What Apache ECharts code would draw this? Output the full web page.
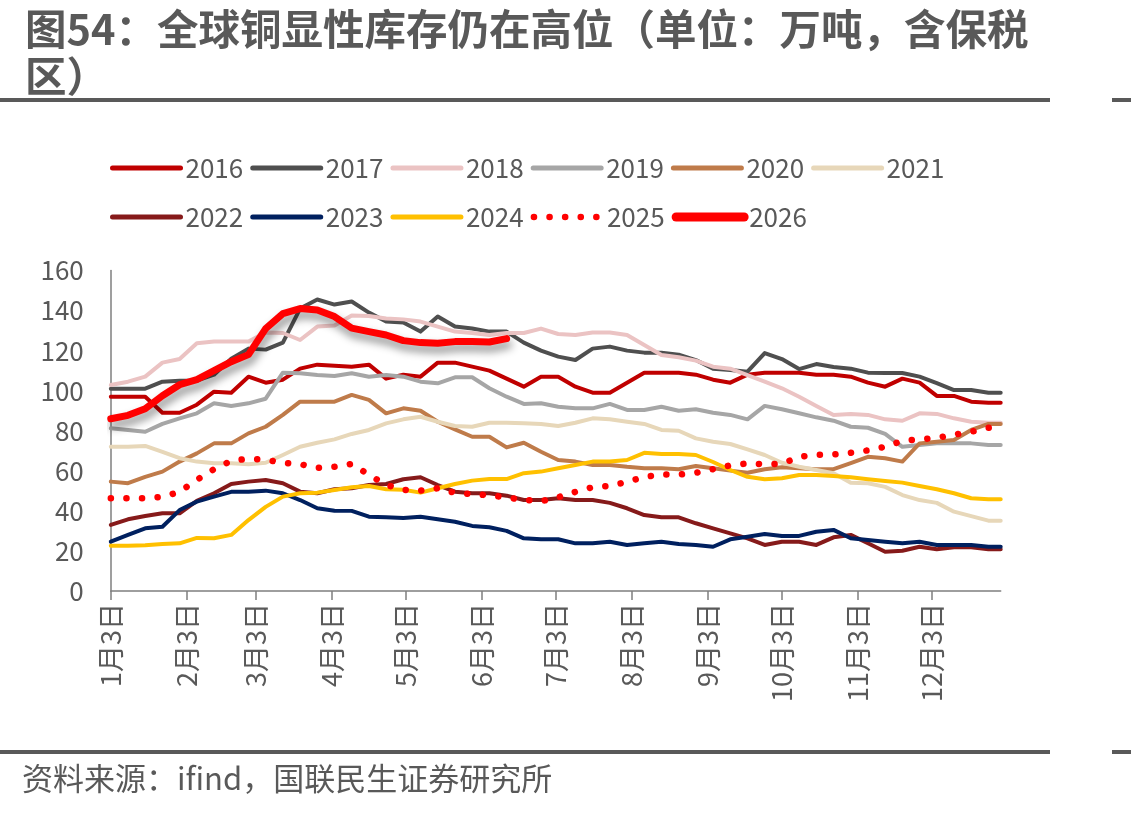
<!DOCTYPE html>
<html><head><meta charset="utf-8">
<script src="https://cdn.jsdelivr.net/npm/echarts@6/dist/echarts.min.js"></script>
<style>html,body{margin:0;padding:0;background:#fff}#c{width:1131px;height:815px}</style>
</head><body><div id="c"></div>
<script>
// x positions: day offset from Jan 3 for each weekly observation
const weekDays = [0,7,14,21,28,35,42,49,56,63,70,77,84,91,98,105,112,119,126,133,140,147,154,161,168,175,182,189,196,203,210,217,224,231,238,245,252,259,266,273,280,287,294,301,308,315,322,329,336,343,350,357,362];
const tickDays = [0,31,59,90,120,151,181,212,243,273,304,334];
const tickLabels = ['1月3日','2月3日','3月3日','4月3日','5月3日','6月3日','7月3日','8月3日','9月3日','10月3日','11月3日','12月3日'];
const yTicks = [0,20,40,60,80,100,120,140,160];

const y2016 = [97,97,97,89,89,93,99.5,99,107,104,105.5,111,113,112.5,112,113,106,108,107,114,114,112,110,106,102,107,107,102,99,99,104,109,109,109,108,105.5,104,108,109,109,109,108,108,107,104,102,106,104,97.4,97.4,94.5,94,94];
const y2017 = [101,101,101,104.5,105,105,108,116,121,120.5,124,141,145.5,143,144.5,139,134.5,134,129.5,137,132,131,129.5,129.5,124,120,117,115.3,121,122,120,119,119,118,115.3,111,110.3,109.5,118.8,115.8,110.8,113.3,111.8,111,109,108.8,108.8,107,103.8,100.3,100.3,99,99];
const y2018 = [102.8,104.5,107,114,115.8,123.7,124.5,124.5,124.5,129,128.8,125.3,132,132.5,137.5,137.3,136,135.6,134.5,132,129.5,128.8,127.8,128.8,128.8,131,128.3,127.8,129,129,127.8,122.8,117.8,116.7,115,112,111,107.8,104.5,101.2,97,92.4,87.9,88.4,87.9,85.7,85,88.7,88.4,86.2,84.5,84,84];
const y2019 = [81.2,80.4,79.5,83.4,86.2,88.7,93.7,92.4,93.7,96,109,108.7,107.8,107.3,108.7,107,107.8,107,104.5,103.7,106.7,106.7,101.2,97,93.4,93.7,92,91.2,91.2,93.4,90.4,90.4,92,90,90.7,89,87.9,85.7,92.4,90.7,88.7,86.7,85,82,81.5,78.4,72,72.9,73.7,73.7,73.7,72.9,72.9];
const y2020 = [54.6,53.8,57,59.6,64.6,68.7,73.7,73.7,78.7,82,87.9,94.5,94.5,94.5,97.9,95.4,88.7,91.2,90,84.5,80.7,77,77,71.7,74,69.5,65.4,64.6,62.9,62.9,62,61.3,61.3,60.8,62.4,61.3,60.1,59,60.8,61.8,61.3,60.8,60.8,63.8,67,66.3,64.6,73.7,74.5,75.4,80.4,83.4,83.4];
const y2021 = [72,72,72.4,69.5,66.3,64.6,63.8,63.8,63.3,64,67.9,72,74,75.7,78.4,80.4,83.7,85.7,87,84.5,82.4,82,84,84,83.7,83.4,82.4,84,86.2,85.7,84.5,83.4,80.4,80,76.2,74.5,73.4,70.7,67.9,64,62,60.4,58.8,54,53.8,52,47.9,45.4,44,39.6,37.4,35.1,35.1];
const y2022 = [33,35.8,37.4,38.8,38.8,45,48.8,53.4,54.6,55.4,53.8,49.6,48.8,50.8,51.3,52.9,53.4,55.8,56.8,52.9,49.6,48.8,48.8,47.6,45.4,45.4,46.3,45.4,45.4,44,41.3,37.9,36.8,36.8,33.8,31.3,28.8,26.3,23,24.6,24.6,23,26.8,28,23.8,19.6,20.1,22.1,20.8,21.8,21.8,20.8,20.8];
const y2023 = [24.6,28,31.3,32.1,40.4,44.6,47.1,49.5,49.5,50.1,48.8,45.4,41.3,40.1,40,37.1,36.8,36.5,37.1,35.8,34.6,32.5,31.8,30,26.3,25.8,25.8,23.8,23.8,24.6,23,23.8,24.6,23.5,23,22.1,25.8,27.1,28.5,27.5,27.5,29.6,30.5,26.3,25.5,24.6,23.8,24.6,23,23,23,22.1,22.1];
const y2024 = [22.6,22.6,22.8,23.5,23.8,26.5,26.3,28,35.4,42,47.1,48.8,49.1,50.4,51.8,52.4,50.8,50.5,49.1,51.3,53.4,55.1,55.9,55.9,58.8,59.6,61.3,62.9,64.6,64.6,65.4,69,68.4,68.4,67.9,64.4,60.4,57,55.8,56.3,57.9,57.9,57.4,56.8,55.8,54.9,54.1,52.4,50.8,48.8,46.3,45.8,45.8];
const y2025 = [46.3,46.3,46.3,47,49.5,55.5,60.8,65,66,65.5,64,63.3,61.5,62,63.4,58,53,50.5,50.1,51.3,49,48.3,47.8,46.7,45.5,44.8,46.8,49.5,51.8,52.4,54.5,57,58.1,58.1,59,60.8,62.7,63.7,63.3,63.5,67,68,68.2,69,70.2,72,75,75.7,76.5,78,79.5,81.5,82];
const y2026 = [86,87.7,91,97.5,103,105.5,110,114.5,118,131,138.5,141,140.3,137,131.2,129.5,127.8,125,124,123.7,124.5,124.5,124.3,126];

const FONT = '"Noto Sans CJK SC", "Noto Sans", sans-serif';
const TXT = '#595959';
const pairs = arr => arr.map((v, i) => [weekDays[i], v]);

const seriesDefs = [
  {name:'2016', data:y2016, color:'#C00000'},
  {name:'2017', data:y2017, color:'#4F4F4F'},
  {name:'2018', data:y2018, color:'#EBC3C3'},
  {name:'2019', data:y2019, color:'#A6A6A6'},
  {name:'2020', data:y2020, color:'#BF7B4A'},
  {name:'2021', data:y2021, color:'#E7D7B9'},
  {name:'2022', data:y2022, color:'#861A1A'},
  {name:'2023', data:y2023, color:'#00205F'},
  {name:'2024', data:y2024, color:'#FFC000'},
  {name:'2025', data:y2025, color:'#FF0000', dotted:true},
  {name:'2026', data:y2026, color:'#FF0000', thick:true}
];

const series = seriesDefs.map(s => {
  const ls = {color: s.color, width: 4, cap: 'round', join: 'round'};
  if (s.dotted) { ls.width = 6.5; ls.type = [0.1, 15.5]; }
  if (s.thick) { ls.width = 7; ls.shadowColor = 'rgba(0,0,0,0.45)'; ls.shadowBlur = 8; ls.shadowOffsetY = 6; ls.shadowOffsetX = 2; }
  return {
    name: s.name, type: 'line', data: pairs(s.data), symbol: 'none', smooth: false,
    itemStyle: {color: s.color}, lineStyle: ls, z: 2
  };
});

const legendItem = s => ({name: s.name, lineStyle: s.thick ? {width: 9, shadowBlur: 0, shadowOffsetX:0, shadowOffsetY:0, shadowColor:'transparent'} : (s.dotted ? {width: 6.5} : {width: 5})});
const legendCommon = {
  left: 105, itemWidth: 68, itemHeight: 14, itemGap: 7,
  textStyle: {fontSize: 26, color: TXT, fontFamily: FONT},
  itemStyle: {opacity: 0, borderWidth: 0},
  lineStyle: {cap: 'round'}
};

const chart = echarts.init(document.getElementById('c'), null, {renderer: 'canvas'});
chart.setOption({
  animation: false,
  backgroundColor: '#fff',
  title: {
    text: '图54：全球铜显性库存仍在高位（单位：万吨，含保税\n区）',
    left: 20, top: 1,
    textStyle: {fontSize: 41.5, fontWeight: 'bold', color: TXT, fontFamily: FONT, lineHeight: 47}
  },
  legend: [
    Object.assign({}, legendCommon, {top: 150, data: seriesDefs.slice(0,6).map(legendItem)}),
    Object.assign({}, legendCommon, {top: 199, data: seriesDefs.slice(6).map(legendItem)})
  ],
  grid: {left: 110.8, right: 130.3, top: 270.5, bottom: 224, containLabel: false},
  xAxis: {
    type: 'value', min: 0, max: 362,
    axisLine: {show: true, lineStyle: {color: '#7F7F7F', width: 1.5}},
    axisTick: {show: true, customValues: tickDays, length: 9, lineStyle: {color: '#7F7F7F', width: 1.5}},
    axisLabel: {
      customValues: tickDays, rotate: 90, margin: 12,
      fontSize: 27, color: TXT, fontFamily: FONT,
      formatter: v => { const i = tickDays.indexOf(v); return i >= 0 ? tickLabels[i] : ''; }
    },
    splitLine: {show: false}
  },
  yAxis: {
    type: 'value', min: 0, max: 160, interval: 20,
    axisLine: {show: true, lineStyle: {color: '#7F7F7F', width: 1.5}},
    axisTick: {show: false},
    axisLabel: {margin: 27, fontSize: 26, color: TXT, fontFamily: FONT,
      formatter: v => yTicks.indexOf(v) >= 0 ? String(v) : ''},
    splitLine: {show: false}
  },
  graphic: [
    {type: 'rect', shape: {x: 0, y: 98, width: 1050, height: 4}, style: {fill: '#595959'}},
    {type: 'rect', shape: {x: 1112, y: 98, width: 19, height: 4}, style: {fill: '#595959'}},
    {type: 'rect', shape: {x: 0, y: 750, width: 1050, height: 4}, style: {fill: '#595959'}},
    {type: 'rect', shape: {x: 1112, y: 750, width: 19, height: 4}, style: {fill: '#595959'}},
    {type: 'text', left: 22, top: 763, style: {text: '资料来源：ifind，国联民生证券研究所', fontSize: 31, fill: TXT, fontFamily: FONT}}
  ],
  series: series
});
</script>
</body></html>
